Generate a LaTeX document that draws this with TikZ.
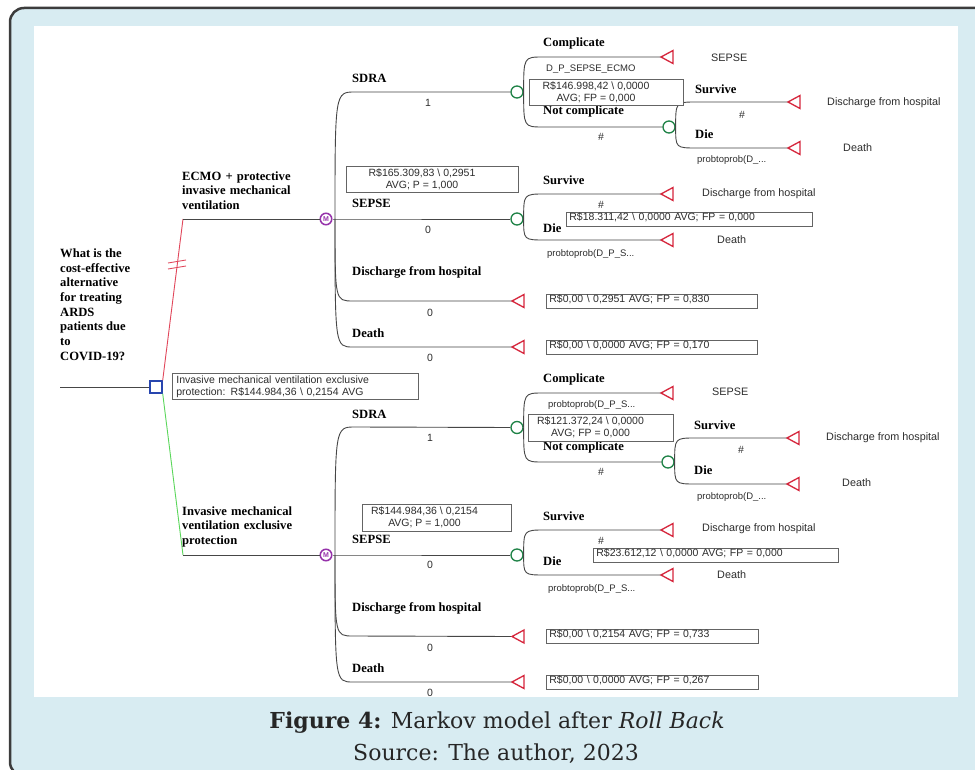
\documentclass[tikz,border=0pt]{standalone}
\usepackage{fontspec}
\setmainfont{DejaVu Serif}
\newfontfamily\treeserif{Liberation Serif}
\newfontfamily\treesans{Liberation Sans}
\newfontfamily\capserif{DejaVu Serif}

\definecolor{framefill}{RGB}{216,236,242}
\definecolor{framedraw}{RGB}{60,60,60}
\definecolor{branch}{RGB}{70,70,70}
\definecolor{termred}{RGB}{214,38,60}
\definecolor{chgreen}{RGB}{30,130,70}
\definecolor{markov}{RGB}{150,50,170}
\definecolor{decblue}{RGB}{40,70,175}
\definecolor{optred}{RGB}{225,70,90}
\definecolor{optgreen}{RGB}{90,215,90}
\definecolor{boxline}{RGB}{100,100,100}
\definecolor{valtext}{RGB}{45,45,45}

\tikzset{
  br/.style={draw=branch, line width=0.9pt},
  lbl/.style={font=\treeserif\bfseries\fontsize{12.6}{14.6}\selectfont, anchor=base west, inner sep=0pt},
  lblblock/.style={font=\treeserif\bfseries\fontsize{12.6}{14.7}\selectfont, anchor=north west, inner sep=0pt, align=left},
  val/.style={font=\treesans\fontsize{10.5}{12}\selectfont, inner sep=0pt, text=valtext},
  tname/.style={font=\treesans\fontsize{10.8}{12}\selectfont, anchor=west, inner sep=0pt, text=valtext},
  smalltxt/.style={font=\treesans\fontsize{9.5}{11}\selectfont, anchor=west, inner sep=0pt, text=valtext},
  chance/.style={circle, draw=chgreen, line width=1.3pt, fill=white, minimum size=12pt, inner sep=0pt},
  markovnode/.style={circle, draw=markov, line width=1.5pt, fill=white, minimum size=11.5pt, inner sep=0pt,
    font=\treesans\bfseries\fontsize{7}{7}\selectfont, text=markov},
  decision/.style={rectangle, draw=decblue, line width=1.4pt, fill=white, minimum size=12pt, inner sep=0pt},
  term/.style={draw=termred, line width=1.3pt, line join=miter},
  valbox/.style={draw=boxline, line width=0.8pt, fill=white, font=\treesans\fontsize{10.5}{12}\selectfont,
    inner sep=0pt, align=center, text=valtext},
  linebox/.style={draw=boxline, line width=0.8pt, fill=white, font=\treesans\fontsize{10.5}{12}\selectfont,
    inner xsep=3pt, inner ysep=0pt, anchor=north west, align=left, text height=8.5pt, text depth=5.5pt, text=valtext},
  rootbox/.style={draw=boxline, line width=0.8pt, fill=white, font=\treesans\fontsize{10.5}{12.5}\selectfont,
    inner xsep=4pt, inner ysep=2pt, anchor=north west, align=left, text=valtext},
}

% red terminal triangle pointing left, tip at the given coordinate
\newcommand\termtri[1]{\draw[term] (#1) -- ++(12,-6.5) -- ++(0,13) -- cycle;}

\begin{document}
\begin{tikzpicture}[x=1pt, y=-1pt]
\useasboundingbox (0,0) rectangle (975,770);
\clip (0,0) rectangle (975,770);

% panel
\draw[framedraw, fill=framefill, line width=2.5pt, rounded corners=14pt] (10,8) rectangle (1000,776);
\fill[white] (34,26) rectangle (958,697);

% caption
\node[font=\capserif\fontsize{22}{26}\selectfont, anchor=base, text=black!85] (cap1) at (497,728)
  {\textbf{Figure 4:} Markov model after \textit{Roll Back}};
\node[font=\capserif\fontsize{22}{26}\selectfont, anchor=base, text=black!85] (cap2) at (496,760)
  {Source: The author, 2023};

\begin{scope}
\clip (34,26) rectangle (958,697);

% ---------------- decision node ----------------
\coordinate (root) at (60,387);
\node[decision] (dec) at (156,387) {};
\draw[br] (root) -- (dec.west);

\node[lblblock] (question) at (60,248.5)
  {What is the\\cost-effective\\alternative\\for treating\\ARDS\\patients due\\to\\COVID-19?};

\node[rootbox, text width=238pt] (decbox) at (172,373)
  {Invasive mechanical ventilation exclusive\\protection: R\$144.984,36 \textbackslash{} 0,2154 AVG};

\node[markovnode] (uM) at (326,219) {M};
\node[markovnode] (lM) at (326,555) {M};
\coordinate (uTop) at (183,219);
\coordinate (lTop) at (183,555);

\draw[optred, line width=0.9pt] (dec.north east) -- (uTop);
\draw[br] (uTop) -- (uM.west);
\draw[optgreen, line width=0.9pt] (dec.south east) -- (lTop);
\draw[br] (lTop) -- (lM.west);
% marks on the pruned option
\draw[optred, line width=0.9pt] (168,263) -- (186,260);
\draw[optred, line width=0.9pt] (168,269) -- (186,266);

\node[lblblock, text width=150pt] (uOpt) at (182,171.3)
  {ECMO + protective\\invasive mechanical\\ventilation};
\node[lblblock, text width=150pt] (lOpt) at (182,506.3)
  {Invasive mechanical\\ventilation exclusive\\protection};

% ---------------- ECMO arm ----------------
\coordinate (uF) at (335,219);
\coordinate (uB1) at (355,92);
\coordinate (uB3) at (353,301);
\coordinate (uB4) at (353,347);
\node[chance] (uA) at (517,92) {};
\node[chance] (uS) at (517,219) {};
\coordinate (uT6) at (512,301);
\coordinate (uT7) at (512,347);
\draw[br] (uM.east) -- (uF) -- (uS.west);
\draw[br] (uF) .. controls (uF |- uB1) .. (uB1) -- (uA.west);
\draw[br] (uF) .. controls (uF |- uB3) .. (uB3) -- (uT6);
\draw[br] (uF) .. controls (uF |- uB4) .. (uB4) -- (uT7);
\termtri{uT6}
\termtri{uT7}

\coordinate (uB11) at (543,57);
\coordinate (uB12) at (543,127);
\coordinate (uT1) at (661,57);
\node[chance] (uN) at (669,127) {};
\draw[br] (uA.east) .. controls (uA.east |- uB11) .. (uB11) -- (uT1);
\draw[br] (uA.east) .. controls (uA.east |- uB12) .. (uB12) -- (uN.west);
\termtri{uT1}

\coordinate (uB21) at (697,102);
\coordinate (uB22) at (697,148);
\coordinate (uT2) at (788,102);
\coordinate (uT3) at (788,148);
\draw[br] (uN.east) .. controls (uN.east |- uB21) .. (uB21) -- (uT2);
\draw[br] (uN.east) .. controls (uN.east |- uB22) .. (uB22) -- (uT3);
\termtri{uT2}
\termtri{uT3}

\coordinate (uB31) at (545,194);
\coordinate (uB32) at (545,240);
\coordinate (uT4) at (661,194);
\coordinate (uT5) at (661,240);
\draw[br] (uS.east) .. controls (uS.east |- uB31) .. (uB31) -- (uT4);
\draw[br] (uS.east) .. controls (uS.east |- uB32) .. (uB32) -- (uT5);
\termtri{uT4}
\termtri{uT5}

\node[lbl] (uL1) at (352,83) {SDRA};
\node[lbl] (uL2) at (352,208) {SEPSE};
\node[lbl] (uL3) at (352,276) {Discharge from hospital};
\node[lbl] (uL4) at (352,337) {Death};
\node[lbl] (uL5) at (543,47) {Complicate};
\node[lbl] (uL6) at (543,115) {Not complicate};
\node[lbl] (uL7) at (695,94) {Survive};
\node[lbl] (uL8) at (695,139) {Die};
\node[lbl] (uL9) at (543,185) {Survive};
\node[lbl] (uL10) at (543,233) {Die};

\node[val] (uP1) at (428,103) {1};
\node[val] (uP2) at (428,230) {0};
\node[val] (uP3) at (430,313) {0};
\node[val] (uP4) at (430,358) {0};
\node[val] (uP5) at (601,137) {\#};
\node[val] (uP6) at (742,115) {\#};
\node[val] (uP7) at (601,205) {\#};

\node[tname] (uN1) at (711,58) {SEPSE};
\node[tname] (uN2) at (827,103) {Discharge from hospital};
\node[tname] (uN3) at (843,148) {Death};
\node[tname] (uN4) at (702,194) {Discharge from hospital};
\node[tname] (uN5) at (717,240) {Death};

\node[smalltxt] (uQ1) at (546,69) {D\_P\_SEPSE\_ECMO};
\node[smalltxt] (uQ2) at (697,160) {probtoprob(D\_...};
\node[smalltxt] (uQ3) at (547,254) {probtoprob(D\_P\_S...};

\node[valbox, minimum width=172pt, minimum height=26pt] (uMbox) at (432,179)
  {R\$165.309,83 \textbackslash{} 0,2951\hspace*{20pt}\\AVG; P = 1,000\hspace*{20pt}};
\node[valbox, minimum width=154pt, minimum height=26pt] (uCbox) at (606,92)
  {R\$146.998,42 \textbackslash{} 0,0000\hspace*{20pt}\\AVG; FP = 0,000\hspace*{20pt}};
\node[linebox, text width=240pt] (uSbox) at (566,212)
  {R\$18.311,42 \textbackslash{} 0,0000 AVG; FP = 0,000};
\node[linebox, text width=205pt] (uDbox) at (546,294)
  {R\$0,00 \textbackslash{} 0,2951 AVG; FP = 0,830};
\node[linebox, text width=205pt] (uEbox) at (546,340)
  {R\$0,00 \textbackslash{} 0,0000 AVG; FP = 0,170};

% ---------------- exclusive ventilation arm ----------------
\begin{scope}[yshift=-335pt]
\coordinate (lF) at (335,220);
\coordinate (lB1) at (355,92);
\coordinate (lB3) at (353,301);
\coordinate (lB4) at (353,347);
\node[chance] (lA) at (517,92.5) {};
\node[chance] (lS) at (517,220) {};
\coordinate (lT6) at (512,301.5);
\coordinate (lT7) at (512,347);
\draw[br] (lM.east) -- (lF) -- (lS.west);
\draw[br] (lF) .. controls (lF |- lB1) .. (lB1) -- (lA.west);
\draw[br] (lF) .. controls (lF |- lB3) .. (lB3) -- (lT6);
\draw[br] (lF) .. controls (lF |- lB4) .. (lB4) -- (lT7);
\termtri{lT6}
\termtri{lT7}

\coordinate (lB11) at (543,58);
\coordinate (lB12) at (543,127);
\coordinate (lT1) at (661,58);
\node[chance] (lN) at (668,127) {};
\draw[br] (lA.east) .. controls (lA.east |- lB11) .. (lB11) -- (lT1);
\draw[br] (lA.east) .. controls (lA.east |- lB12) .. (lB12) -- (lN.west);
\termtri{lT1}

\coordinate (lB21) at (696,103);
\coordinate (lB22) at (696,149);
\coordinate (lT2) at (787,103);
\coordinate (lT3) at (787,149);
\draw[br] (lN.east) .. controls (lN.east |- lB21) .. (lB21) -- (lT2);
\draw[br] (lN.east) .. controls (lN.east |- lB22) .. (lB22) -- (lT3);
\termtri{lT2}
\termtri{lT3}

\coordinate (lB31) at (545,195);
\coordinate (lB32) at (545,240);
\coordinate (lT4) at (661,195);
\coordinate (lT5) at (661,240);
\draw[br] (lS.east) .. controls (lS.east |- lB31) .. (lB31) -- (lT4);
\draw[br] (lS.east) .. controls (lS.east |- lB32) .. (lB32) -- (lT5);
\termtri{lT4}
\termtri{lT5}

\node[lbl] (lL1) at (352,83) {SDRA};
\node[lbl] (lL2) at (352,208) {SEPSE};
\node[lbl] (lL3) at (352,276) {Discharge from hospital};
\node[lbl] (lL4) at (352,337) {Death};
\node[lbl] (lL5) at (543,47) {Complicate};
\node[lbl] (lL6) at (543,115) {Not complicate};
\node[lbl] (lL7) at (694,94) {Survive};
\node[lbl] (lL8) at (694,139) {Die};
\node[lbl] (lL9) at (543,185) {Survive};
\node[lbl] (lL10) at (543,230) {Die};

\node[val] (lP1) at (430,103) {1};
\node[val] (lP2) at (430,230) {0};
\node[val] (lP3) at (430,313) {0};
\node[val] (lP4) at (430,358) {0};
\node[val] (lP5) at (601,137) {\#};
\node[val] (lP6) at (741,115) {\#};
\node[val] (lP7) at (601,206) {\#};

\node[tname] (lN1) at (712,57) {SEPSE};
\node[tname] (lN2) at (826,103) {Discharge from hospital};
\node[tname] (lN3) at (842,148) {Death};
\node[tname] (lN4) at (702,194) {Discharge from hospital};
\node[tname] (lN5) at (717,240) {Death};

\node[smalltxt] (lQ1) at (548,70) {probtoprob(D\_P\_S...};
\node[smalltxt] (lQ2) at (697,162) {probtoprob(D\_...};
\node[smalltxt] (lQ3) at (548,254) {probtoprob(D\_P\_S...};

\node[valbox, minimum width=149pt, minimum height=27pt] (lMbox) at (436.5,182.5)
  {R\$144.984,36 \textbackslash{} 0,2154\hspace*{24pt}\\AVG; P = 1,000\hspace*{24pt}};
\node[valbox, minimum width=145pt, minimum height=27pt] (lCbox) at (600.5,92.5)
  {R\$121.372,24 \textbackslash{} 0,0000\hspace*{20pt}\\AVG; FP = 0,000\hspace*{20pt}};
\node[linebox, text width=239pt] (lSbox) at (593,213)
  {R\$23.612,12 \textbackslash{} 0,0000 AVG; FP = 0,000};
\node[linebox, text width=206pt] (lDbox) at (546,294)
  {R\$0,00 \textbackslash{} 0,2154 AVG; FP = 0,733};
\node[linebox, text width=206pt] (lEbox) at (546,340)
  {R\$0,00 \textbackslash{} 0,0000 AVG; FP = 0,267};
\end{scope}
\end{scope}
\end{tikzpicture}
\end{document}
